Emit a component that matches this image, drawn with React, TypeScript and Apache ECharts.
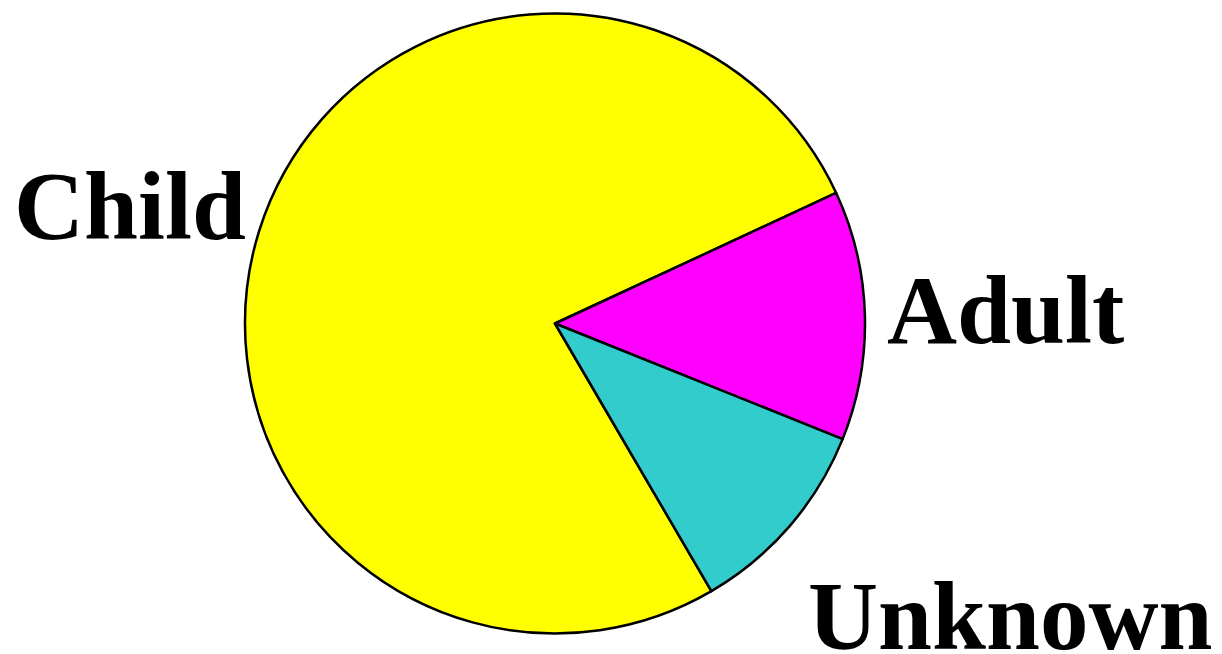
import React, { useEffect, useRef } from "react";
import * as echarts from "echarts";

const categories = ["Child", "Adult", "Unknown"];
const values = [76.5, 13, 10.5];
const colors = ["#FFFF00", "#FF00FF", "#33CCCC"];
const labelPos: [number, number][] = [
  [14, 206],
  [887, 310],
  [808, 616],
];

export default function App() {
  const ref = useRef<HTMLDivElement>(null);
  useEffect(() => {
    if (!ref.current) return;
    const chart = echarts.init(ref.current, undefined, { renderer: "svg" });
    chart.setOption({
      animation: false,
      backgroundColor: "#ffffff",
      series: [
        {
          type: "pie",
          center: [555, 323.5],
          radius: 310,
          startAngle: 300.3,
          clockwise: true,
          label: { show: false },
          labelLine: { show: false },
          emphasis: { disabled: true },
          itemStyle: { borderColor: "#000000", borderWidth: 2.5 },
          data: categories.map((name, i) => ({
            name,
            value: values[i],
            itemStyle: { color: colors[i] },
          })),
        },
      ],
      graphic: categories.map((name, i) => ({
        type: "text",
        x: labelPos[i][0],
        y: labelPos[i][1],
        style: {
          text: name,
          fill: "#000000",
          font: "bold 97px 'Liberation Serif', 'Times New Roman', serif",
          align: "left",
          verticalAlign: "middle",
        },
      })),
    });
    return () => chart.dispose();
  }, []);
  return (
    <div
      ref={ref}
      style={{ position: "absolute", left: 0, top: 0, width: 1222, height: 654 }}
    />
  );
}
